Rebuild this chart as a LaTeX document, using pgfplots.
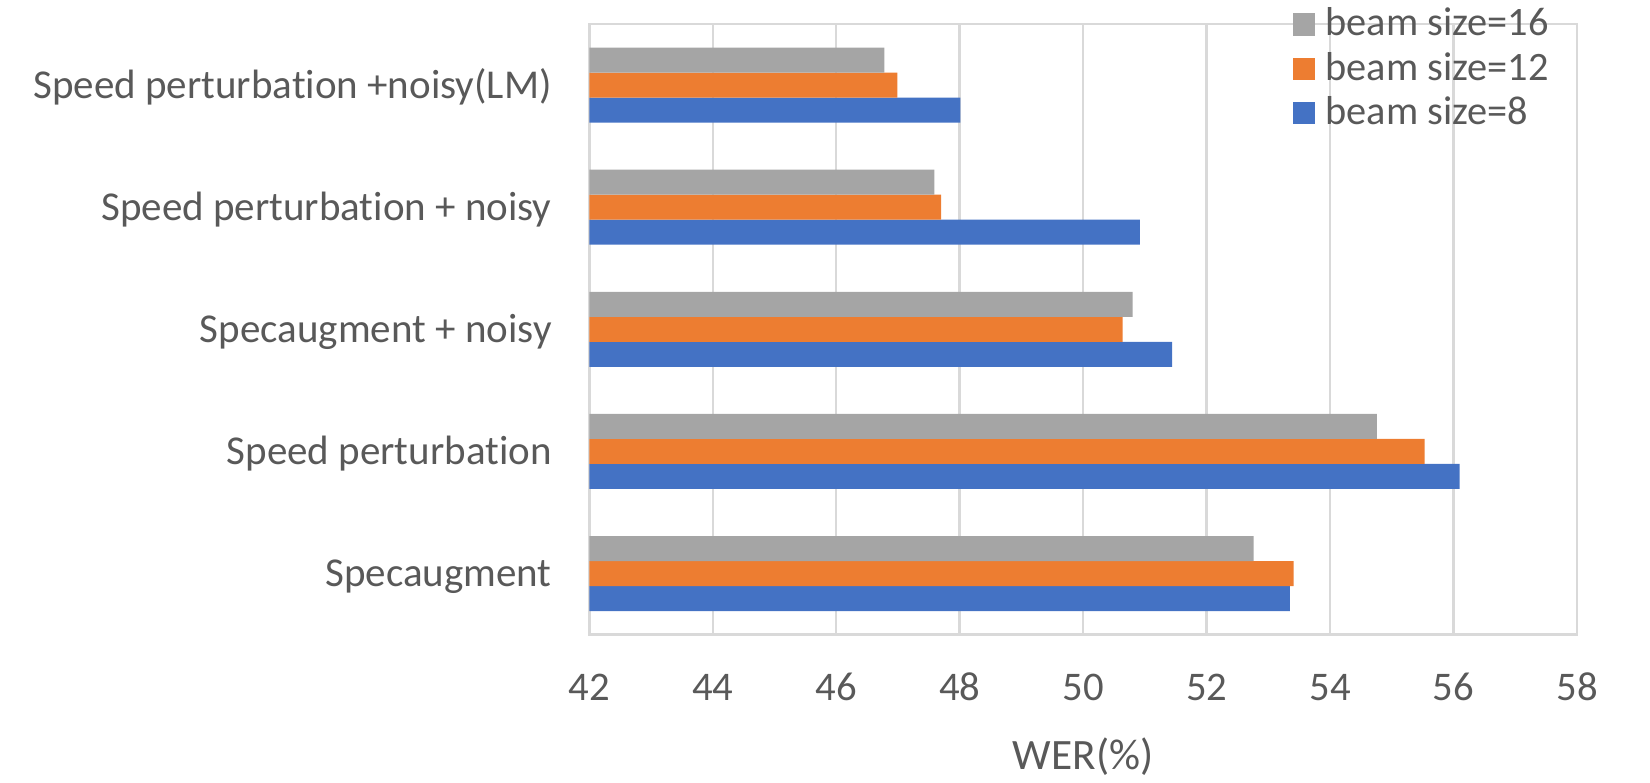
\documentclass[border=0pt]{standalone}
\usepackage{fontspec}
\setmainfont{Carlito}[Ligatures={NoCommon,NoContextual}, Contextuals=NoAlternate]
\usepackage{pgfplots}
\pgfplotsset{compat=1.18}
\usepackage{pgfplotstable}
\definecolor{cblue}{HTML}{4472C4}
\definecolor{corange}{HTML}{ED7D31}
\definecolor{cgray}{HTML}{A5A5A5}
\definecolor{gridc}{HTML}{D9D9D9}
\definecolor{txt}{HTML}{595959}
\newcommand{\pert}{perturbat\kern0pt ion}

\pgfplotstableread{
idx b8 b12 b16
0 53.35 53.41 52.76
1 56.10 55.53 54.76
2 51.44 50.64 50.80
3 50.92 47.70 47.59
4 48.01 46.99 46.78
}\werdata

\begin{document}
\begin{tikzpicture}
\useasboundingbox (-176.8pt,-44.5pt) rectangle (318.2pt,190.4pt);
\begin{axis}[
  scale only axis,
  width=296.3pt, height=183.2pt,
  xbar=0pt, bar width=7.5pt,
  xmin=42, xmax=58,
  ymin=-0.5, ymax=4.5,
  xtick={42,44,...,58},
  ytick={0,1,2,3,4},
  yticklabels={Specaugment, Speed \pert, Specaugment + noisy, Speed \pert{} + noisy, Speed \pert{} +noisy(LM)},
  xmajorgrids, ymajorgrids=false,
  grid style={gridc, line width=0.75pt},
  axis line style={gridc, line width=0.8pt},
  major tick length=0pt,
  tick style={draw=none},
  /pgf/number format/assume math mode=true,
  ticklabel style={font=\fontsize{12.2}{14}\selectfont, text=txt},
  xticklabel style={anchor=base, inner sep=0pt, yshift=-19.8pt},
  yticklabel style={anchor=base east, inner sep=0pt, xshift=-11.1pt, yshift=-3.9pt, font=\fontsize{12.3}{14}\selectfont},
  xlabel={WER(\%)},
  xlabel style={at={(axis description cs:0.5,0)}, anchor=base, inner sep=0pt, yshift=-40.5pt, font=\fontsize{13}{15}\selectfont, text=txt},
  reverse legend,
  legend style={at={(rel axis cs:0.7126,1.0327)}, anchor=north west, draw=none, fill=none,
    inner sep=0pt, outer sep=0pt, row sep=0pt, column sep=3pt,
    font=\fontsize{12.1}{14}\selectfont, text=txt,
    nodes={inner sep=0pt, text height=9.5pt, text depth=3.8pt, anchor=base west}},
  legend cell align=left,
  sqleg/.style={legend image code/.code={\fill[##1] (0pt,0pt) rectangle (6.7pt,6.7pt);}},
]
\addplot[fill=cblue, draw=none, sqleg] table[x=b8, y=idx] {\werdata};
\addplot[fill=corange, draw=none, sqleg] table[x=b12, y=idx] {\werdata};
\addplot[fill=cgray, draw=none, sqleg] table[x=b16, y=idx] {\werdata};
\legend{beam size=8, beam size=12, beam size=16}
\end{axis}
\end{tikzpicture}
\end{document}
